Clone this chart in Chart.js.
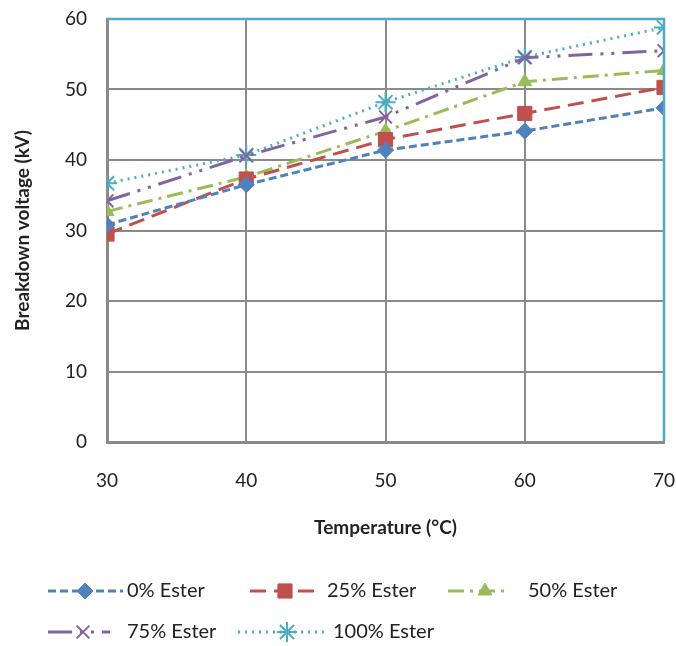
<!DOCTYPE html>
<html>
<head>
<meta charset="utf-8">
<script src="https://cdn.jsdelivr.net/npm/chart.js@4"></script>
<style>
  html, body { margin: 0; padding: 0; background: #fff; }
  #wrap { width: 676px; height: 646px; position: relative; }
</style>
</head>
<body>
<div id="wrap"><canvas id="chart"></canvas></div>
<script>
// Temperature (°C)
const temps = [30, 40, 50, 60, 70];
// Breakdown voltage (kV) per ester share
const ester0 = [30.8, 36.5, 41.4, 44.1, 47.4];
const ester25 = [29.5, 37.3, 42.9, 46.6, 50.3];
const ester50 = [32.7, 37.6, 44.1, 51.1, 52.7];
const ester75 = [34.2, 40.6, 46.1, 54.5, 55.5];
const ester100 = [36.7, 40.7, 48.2, 54.6, 58.8];
const seriesNames = ['0% Ester', '25% Ester', '50% Ester', '75% Ester', '100% Ester'];

const toXY = vals => vals.map((v, i) => ({ x: temps[i], y: v }));

const FONT = 'Lato, "Open Sans", sans-serif';

// light blue top/right frame plus the legend under the chart
const framePlugin = {
    id: 'frame',
    afterDraw(chart) {
        const { ctx, chartArea: a } = chart;
        ctx.save();
        ctx.strokeStyle = '#4BACC6';
        ctx.lineWidth = 2.5;
        ctx.beginPath();
        ctx.moveTo(a.left, a.top);
        ctx.lineTo(a.right, a.top);
        ctx.lineTo(a.right, a.bottom);
        ctx.stroke();

        // legend slots: line start/end, marker x, text x
        const slots = [
            { x0: 48, x1: 123, m: 85, t: 127, y: 591 },
            { x0: 250, x1: 320, m: 285, t: 327, y: 591 },
            { x0: 448, x1: 510, m: 485, t: 528, y: 591 },
            { x0: 48, x1: 110, m: 83, t: 127, y: 632 },
            { x0: 238, x1: 325, m: 287, t: 333, y: 632 }
        ];
        ctx.font = '20px ' + FONT;
        ctx.textBaseline = 'middle';
        chart.data.datasets.forEach((ds, i) => {
            const s = slots[i];
            ctx.strokeStyle = ds.borderColor;
            ctx.lineWidth = 3;
            ctx.setLineDash(ds.borderDash || []);
            ctx.beginPath();
            ctx.moveTo(s.x0, s.y);
            ctx.lineTo(s.x1, s.y);
            ctx.stroke();
            ctx.setLineDash([]);
            ctx.fillStyle = ds.pointBackgroundColor;
            ctx.strokeStyle = ds.pointBorderColor;
            ctx.lineWidth = ds.pointBorderWidth;
            Chart.helpers.drawPoint(ctx, {
                pointStyle: ds.pointStyle,
                radius: ds.pointRadius,
                rotation: 0,
                borderWidth: ds.pointBorderWidth
            }, s.m, s.y);
            ctx.fillStyle = '#222';
            ctx.fillText(seriesNames[i], s.t, s.y);
        });
        ctx.restore();
    }
};

function series(i, vals, color, dash, style, radius, bw) {
    return {
        label: seriesNames[i],
        data: toXY(vals),
        borderColor: color,
        backgroundColor: color,
        pointBackgroundColor: color,
        pointBorderColor: color,
        borderWidth: 3,
        borderDash: dash,
        pointStyle: style,
        pointRadius: radius,
        pointBorderWidth: bw,
        tension: 0
    };
}

const ctx = document.getElementById('chart').getContext('2d');
new Chart(ctx, {
    type: 'line',
    data: {
        datasets: [
            series(0, ester0, '#4F81BD', [8, 4], 'rectRot', 8, 1),
            series(1, ester25, '#C0504D', [16, 8], 'rect', 10, 1),
            series(2, ester50, '#9BBB59', [16, 6, 3, 6], 'triangle', 8, 1),
            series(3, ester75, '#8064A2', [24, 8, 3, 8, 3, 8], 'crossRot', 9, 2),
            series(4, ester100, '#4BACC6', [2, 5], 'star', 10, 2)
        ]
    },
    options: {
        responsive: true,
        maintainAspectRatio: false,
        animation: false,
        layout: { padding: { left: 0, right: 11, top: 19, bottom: 0 } },
        plugins: { legend: { display: false }, tooltip: { enabled: false } },
        scales: {
            x: {
                type: 'linear',
                min: 30,
                max: 70,
                afterFit: s => {
                    s.height = 204;
                    s.paddingLeft = 0;
                    s.paddingRight = 0;
                },
                ticks: { stepSize: 10, color: '#222', font: { family: FONT, size: 19 }, padding: 27 },
                grid: { color: '#8a8a8a', lineWidth: 2, drawTicks: false },
                border: { color: '#8a8a8a', width: 3 },
                title: {
                    display: true,
                    text: 'Temperature (°C)',
                    color: '#222',
                    font: { family: FONT, size: 19, weight: 'bold' },
                    padding: { top: 0, bottom: 107 }
                }
            },
            y: {
                min: 0,
                max: 60,
                afterFit: s => {
                    s.width = 107;
                    s.paddingTop = 0;
                    s.paddingBottom = 0;
                },
                ticks: { stepSize: 10, color: '#222', font: { family: FONT, size: 19 }, padding: 20 },
                grid: { color: '#8a8a8a', lineWidth: 2, drawTicks: false },
                border: { color: '#8a8a8a', width: 3 },
                title: {
                    display: true,
                    text: 'Breakdown voltage (kV)',
                    color: '#222',
                    font: { family: FONT, size: 19, weight: 'bold' },
                    padding: { top: 11, bottom: 0 }
                }
            }
        }
    },
    plugins: [framePlugin]
});
</script>
</body>
</html>
